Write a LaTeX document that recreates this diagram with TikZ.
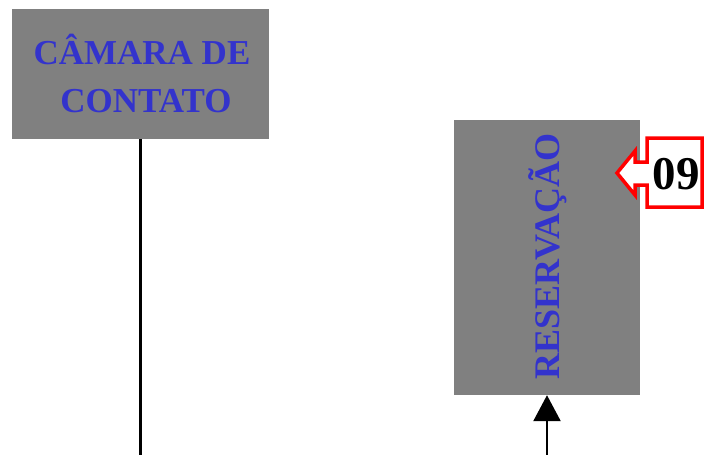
\documentclass[tikz,border=0pt]{standalone}
\usepackage{fontspec}
\setmainfont{Liberation Serif}
\usetikzlibrary{arrows.meta}
\definecolor{boxgray}{HTML}{808080}
\definecolor{boxblue}{HTML}{3333CC}
\tikzset{
  graybox/.style={fill=boxgray, draw=none, inner sep=0pt},
  bluetext/.style={text=boxblue, font=\fontsize{35}{48}\selectfont\bfseries, align=center},
  link/.style={line width=2.5pt},
  callout/.style={draw=red, fill=white, line width=3.5pt, line join=miter}
}
\begin{document}
\begin{tikzpicture}[x=1pt,y=-1pt]
\useasboundingbox (0,0) rectangle (704,455);

% boxes
\node[graybox, minimum width=257pt, minimum height=130pt] (camara) at (140.5,74) {};
\node[bluetext] at (142,73) {CÂMARA DE\\ \hspace*{8pt}CONTATO};
\node[graybox, minimum width=186pt, minimum height=275pt] (reserva) at (547,257.5) {};
\node[bluetext, font=\fontsize{36}{48}\selectfont\bfseries, rotate=90] at (547.5,256.5) {RESERVAÇÃO};

% lines
\coordinate (fim1) at (140.5,455);
\coordinate (fim2) at (547,455);
\draw[link] (camara.south) -- (fim1);
\draw[link, -{Triangle[width=27pt,length=26pt]}] (fim2) -- (reserva.south);

% numero
\draw[callout] (647,138) -- (702,138) -- (702,207) -- (647,207) -- (647,185)
  -- (635,185) -- (635,195) -- (617,173) -- (635,151) -- (635,162) -- (647,162) -- cycle;
\node[font=\fontsize{47}{47}\selectfont\bfseries] (num) at (676,174) {09};
\end{tikzpicture}
\end{document}
